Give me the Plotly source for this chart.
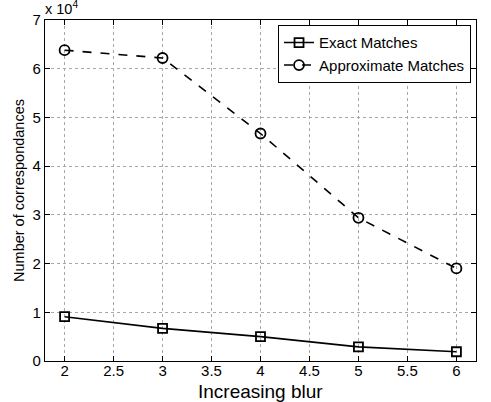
import plotly.graph_objects as go

# Blur levels and number of correspondences per matching mode
blur_levels = [2, 3, 4, 5, 6]
exact_matches = [9100, 6700, 5000, 2900, 1900]
approx_matches = [63800, 62200, 46700, 29400, 19000]

y_tick_values = [0, 10000, 20000, 30000, 40000, 50000, 60000, 70000]
y_tick_labels = ["0", "1", "2", "3", "4", "5", "6", "7"]
x_tick_values = [2, 2.5, 3, 3.5, 4, 4.5, 5, 5.5, 6]
x_tick_labels = ["2", "2.5", "3", "3.5", "4", "4.5", "5", "5.5", "6"]

FONT = "Liberation Sans, Arial, Helvetica, sans-serif"

fig = go.Figure()
fig.add_trace(go.Scatter(
    x=blur_levels, y=exact_matches, name="Exact Matches",
    mode="lines+markers",
    line=dict(color="black", width=1.6),
    marker=dict(symbol="square-open", size=9, color="black", line=dict(width=1.8)),
))
fig.add_trace(go.Scatter(
    x=blur_levels, y=approx_matches, name="Approximate Matches",
    mode="lines+markers",
    line=dict(color="black", width=1.6, dash="dash"),
    marker=dict(symbol="circle-open", size=10, color="black", line=dict(width=1.8)),
))

axis_common = dict(
    showline=True, linecolor="black", linewidth=1.2, mirror="ticks",
    ticks="inside", ticklen=5, tickcolor="black",
    showgrid=True, gridcolor="#a8a8a8", griddash="dot", gridwidth=1,
    zeroline=False, automargin=False,
    tickfont=dict(size=15, color="black", family=FONT),
)

fig.update_xaxes(
    range=[1.8, 6.2], tickvals=x_tick_values, ticktext=x_tick_labels,
    ticklabelstandoff=-4,
    **axis_common,
)
fig.update_yaxes(
    range=[0, 70000], tickvals=y_tick_values, ticktext=y_tick_labels,
    title=dict(text="Number of correspondances", font=dict(size=14.5, color="black", family=FONT), standoff=4),
    **axis_common,
)

# x-axis title placed just below the tick labels
fig.add_annotation(
    text="Increasing blur", xref="paper", yref="paper", x=0.5, y=0.0,
    xanchor="center", yanchor="middle", showarrow=False, yshift=-30,
    font=dict(size=19, color="black", family=FONT),
)

fig.add_annotation(
    text="x 10<sup>4</sup>", xref="paper", yref="paper", x=0.0, y=1.0,
    xanchor="left", yanchor="bottom", showarrow=False, xshift=-2, yshift=1,
    font=dict(size=14.5, color="black", family=FONT),
)

fig.update_layout(
    width=491, height=402,
    margin=dict(l=45, r=15, t=20, b=41),
    paper_bgcolor="white", plot_bgcolor="white",
    font=dict(family=FONT, color="black"),
    legend=dict(
        x=0.988, y=0.985, xanchor="right", yanchor="top",
        bgcolor="white", bordercolor="black", borderwidth=1.2,
        font=dict(size=15, color="black", family=FONT),
        itemwidth=30, tracegroupgap=0,
    ),
    showlegend=True,
)

fig.write_html("out.html")
